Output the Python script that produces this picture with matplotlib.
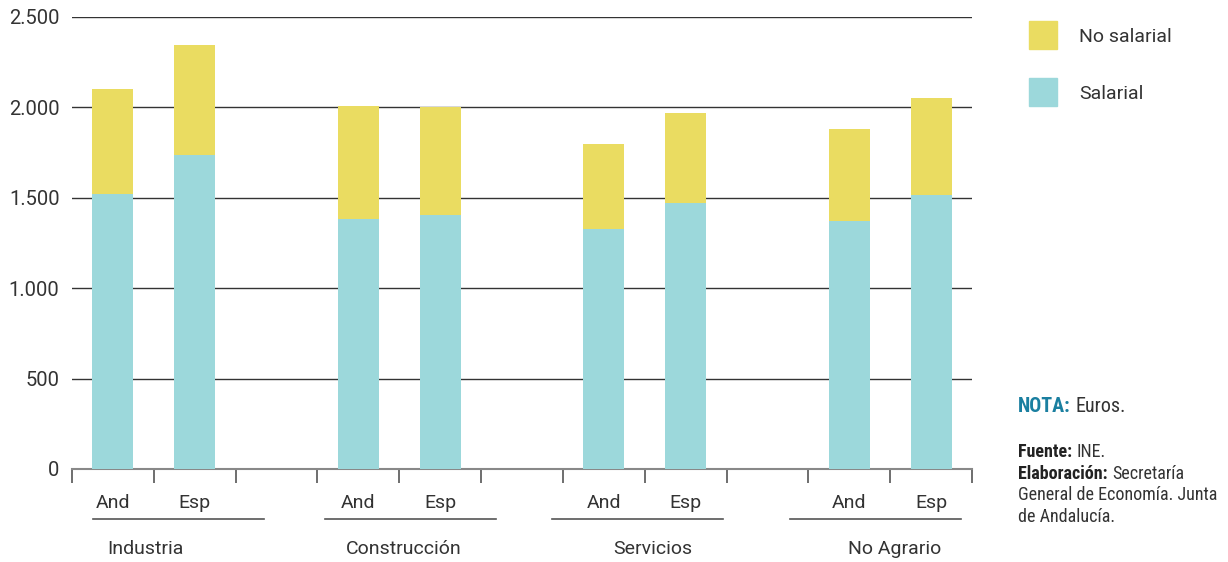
import matplotlib
matplotlib.use("Agg")
import matplotlib.pyplot as plt
from matplotlib import font_manager
import numpy as np

# datos (euros)
regiones = ["And", "Esp", "And", "Esp", "And", "Esp", "And", "Esp"]
sectores = ["Industria", "Construcción", "Servicios", "No Agrario"]
salarial = [1521, 1737, 1383, 1405, 1327, 1471, 1372, 1515]
total = [2102, 2345, 2008, 2002, 1798, 1969, 1881, 2052]
no_salarial = [t - s for t, s in zip(total, salarial)]
yticks = [0, 500, 1000, 1500, 2000, 2500]
ytick_labels = ["0", "500", "1.000", "1.500", "2.000", "2.500"]

available = {f.name for f in font_manager.fontManager.ttflist}
narrow = [f for f in ["Roboto Condensed", "Liberation Sans Narrow", "DejaVu Sans Condensed"]
          if f in available]
main_font = "Roboto" if "Roboto" in available else "DejaVu Sans"
note_font = narrow[0] if narrow else main_font
plt.rcParams["font.family"] = [main_font, "DejaVu Sans"]

color_sal = "#9cd8db"
color_nosal = "#eadc61"
text_color = "#333333"

fig = plt.figure(figsize=(12.28, 5.62), dpi=100)
ax = fig.add_axes([0.0586, 0.1655, 0.7329, 0.8043])

# posiciones de las barras: dos por sector, un hueco entre sectores
x_pos = []
for g in range(len(sectores)):
    x_pos += [g * 3 + 0.5, g * 3 + 1.5]
x_pos = np.array(x_pos)

ax.bar(x_pos, salarial, width=0.5, color=color_sal, zorder=3)
ax.bar(x_pos, no_salarial, width=0.5, bottom=salarial, color=color_nosal, zorder=3)

ax.set_xlim(0, 11)
ax.set_ylim(0, 2500)
ax.set_yticks(yticks)
ax.set_yticklabels(ytick_labels, fontsize=14.5, color=text_color)
ax.tick_params(axis="y", length=0, pad=9)
for y in yticks[1:]:
    ax.axhline(y, color="#333333", linewidth=1.0, zorder=1)

ax.set_xticks(np.arange(0, 12))
ax.set_xticklabels([])
ax.tick_params(axis="x", length=10, width=1.2, color="#555555", direction="out")
for s in ["top", "right", "left"]:
    ax.spines[s].set_visible(False)
ax.spines["bottom"].set_color("#888888")
ax.spines["bottom"].set_linewidth(1.5)

trans = ax.get_xaxis_transform()
for xp, r in zip(x_pos, regiones):
    ax.text(xp, -0.075, r, transform=trans, ha="center", va="center",
            fontsize=14, color=text_color)

underlines = [(0.26, 2.35), (3.09, 5.18), (5.87, 7.96), (8.77, 10.86)]
label_x = [0.9, 4.05, 7.1, 10.06]
for (x0, x1), lx, nombre in zip(underlines, label_x, sectores):
    ax.plot([x0, x1], [-0.111, -0.111], transform=trans, color="#555555",
            linewidth=1.2, clip_on=False)
    ax.text(lx, -0.177, nombre, transform=trans, ha="center", va="center",
            fontsize=14, color=text_color)

# leyenda
W, H = 1228, 562
for y_c, lab, col in [(35, "No salarial", color_nosal), (92, "Salarial", color_sal)]:
    fig.patches.append(plt.Rectangle((1029 / W, 1 - (y_c + 14) / H), 28 / W, 28 / H,
                                     transform=fig.transFigure, color=col))
    fig.text(1079 / W, 1 - (y_c + 2) / H, lab, fontsize=14, color=text_color, va="center")

# notas: parte en negrita seguida de texto normal
renderer = fig.canvas.get_renderer()


def note_line(y_px, bold, normal, bold_color="#222222", size=13):
    x = 1018 / W
    if bold:
        t = fig.text(x, 1 - y_px / H, bold, fontsize=size, color=bold_color,
                     fontweight="bold", va="center", family=[note_font, "DejaVu Sans"])
        bb = t.get_window_extent(renderer)
        x = (bb.x1 + 5) / W
    if normal:
        fig.text(x, 1 - y_px / H, normal, fontsize=size, color=text_color,
                 va="center", family=[note_font, "DejaVu Sans"])


note_line(406, "NOTA:", "Euros.", bold_color="#1a7fa0", size=14.5)
note_line(452, "Fuente:", "INE.")
note_line(474, "Elaboración:", "Secretaría")
note_line(495, "", "General de Economía. Junta")
note_line(517, "", "de Andalucía.")

fig.savefig("out.png", dpi=100)
